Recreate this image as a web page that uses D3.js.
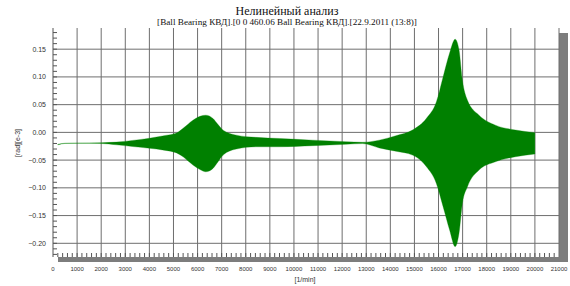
<!DOCTYPE html>
<html>
<head>
<meta charset="utf-8">
<script src="https://cdn.jsdelivr.net/npm/d3@7"></script>
<style>
  body { margin: 0; background: #fff; }
  svg { display: block; }
</style>
</head>
<body>
<div id="chart"></div>
<script>
// envelope of the response
var rpm   = [200, 500, 1000, 2000, 2640, 3300, 4000, 4600, 5130, 5400, 5810, 6100, 6340, 6640, 6850, 7060, 7610, 8430, 9400, 10780, 12160, 12850, 13540, 14230, 14920, 15500, 15910, 16190, 16460, 16690, 16850, 16990, 17200, 17680, 18360, 19190, 20000];
var upper = [-0.0215, -0.0195, -0.019, -0.0185, -0.0175, -0.0145, -0.0106, -0.006, -0.001, 0.0074, 0.022, 0.029, 0.031, 0.025, 0.014, 0.004, -0.005, -0.009, -0.011, -0.014, -0.0168, -0.0178, -0.014, -0.006, 0.0043, 0.0254, 0.055, 0.100, 0.143, 0.168, 0.149, 0.094, 0.058, 0.031, 0.013, 0.0043, -0.0005];
var lower = [-0.0225, -0.0200, -0.0198, -0.0200, -0.0225, -0.0255, -0.0286, -0.032, -0.037, -0.044, -0.059, -0.067, -0.071, -0.065, -0.053, -0.041, -0.030, -0.026, -0.026, -0.024, -0.0215, -0.0202, -0.028, -0.034, -0.041, -0.062, -0.092, -0.134, -0.176, -0.206, -0.182, -0.128, -0.098, -0.068, -0.053, -0.044, -0.039];

var xTicks = d3.range(0, 21001, 1000);
var yTicks = [-0.20, -0.15, -0.10, -0.05, 0.00, 0.05, 0.10, 0.15];

var title = "Нелинейный анализ";
var subtitle = "[Ball Bearing КВД].[0 0 460.06 Ball Bearing КВД].[22.9.2011 (13:8)]";

var W = 570, H = 286;
var pLeft = 53, pRight = 559, pTop = 28, pBottom = 257;

var svg = d3.select("#chart")
    .append("svg")
    .attr("width", W)
    .attr("height", H);

var x = d3.scaleLinear()
    .domain([0, 21000])
    .range([pLeft, pRight]);

var y = d3.scaleLinear()
    .domain([-0.2247, 0.1882])
    .range([pBottom, pTop]);

// drop shadow + plot background
svg.append("rect")
    .attr("x", pLeft + 5).attr("y", pTop + 5)
    .attr("width", pRight - pLeft + 4).attr("height", pBottom - pTop)
    .attr("fill", "#7d7d7d");
svg.append("rect")
    .attr("x", pLeft).attr("y", pTop)
    .attr("width", pRight - pLeft).attr("height", pBottom - pTop)
    .attr("fill", "#fff");

// grid
svg.append("g")
    .selectAll("line")
    .data(xTicks.slice(1))
    .enter()
    .append("line")
    .attr("x1", function (d) { return x(d); })
    .attr("x2", function (d) { return x(d); })
    .attr("y1", pTop).attr("y2", pBottom)
    .attr("stroke", "#6e6e6e").attr("stroke-width", 1);

svg.append("g")
    .selectAll("line")
    .data(yTicks)
    .enter()
    .append("line")
    .attr("x1", pLeft).attr("x2", pRight)
    .attr("y1", function (d) { return y(d); })
    .attr("y2", function (d) { return y(d); })
    .attr("stroke", "#6e6e6e").attr("stroke-width", 1);

// minor ticks
svg.append("g")
    .selectAll("line")
    .data(d3.range(200, 21000, 200))
    .enter()
    .append("line")
    .attr("x1", function (d) { return x(d); })
    .attr("x2", function (d) { return x(d); })
    .attr("y1", pBottom).attr("y2", pBottom - 4)
    .attr("stroke", "#555");

svg.append("g")
    .selectAll("line")
    .data(d3.range(-22, 19, 1))
    .enter()
    .append("line")
    .attr("x1", pLeft).attr("x2", pLeft + 4)
    .attr("y1", function (d) { return y(d / 100); })
    .attr("y2", function (d) { return y(d / 100); })
    .attr("stroke", "#555");

// response envelope
var data = rpm.map(function (r, i) { return {r: r, hi: upper[i], lo: lower[i]}; });

var area = d3.area()
    .x(function (d) { return x(d.r); })
    .y0(function (d) { return y(d.lo); })
    .y1(function (d) { return y(d.hi); })
    .curve(d3.curveMonotoneX);

svg.append("path")
    .datum(data)
    .attr("d", area)
    .attr("fill", "#008000")
    .attr("stroke", "#008000")
    .attr("stroke-width", 0.3);

// axes
svg.append("line")
    .attr("x1", pLeft).attr("x2", pLeft)
    .attr("y1", pTop).attr("y2", pBottom)
    .attr("stroke", "#555");

svg.append("g")
    .selectAll("text")
    .data(xTicks)
    .enter()
    .append("text")
    .attr("x", function (d) { return x(d); })
    .attr("y", 271)
    .attr("text-anchor", "middle")
    .style("font", "6px 'Liberation Sans', Arial, sans-serif")
    .attr("fill", "#333")
    .text(function (d) { return d; });

svg.append("g")
    .selectAll("text")
    .data(yTicks)
    .enter()
    .append("text")
    .attr("x", 46)
    .attr("y", function (d) { return y(d) + 2.5; })
    .attr("text-anchor", "end")
    .style("font", "7px 'Liberation Sans', Arial, sans-serif")
    .attr("fill", "#333")
    .text(function (d) { return d3.format(".2f")(d); });

svg.append("text")
    .attr("x", 305).attr("y", 282)
    .attr("text-anchor", "middle")
    .style("font", "7px 'Liberation Sans', Arial, sans-serif")
    .attr("fill", "#333")
    .text("[1/min]");

svg.append("text")
    .attr("transform", "translate(20,143) rotate(-90)")
    .attr("text-anchor", "middle")
    .style("font", "7px 'Liberation Sans', Arial, sans-serif")
    .attr("fill", "#333")
    .text("[rad][e-3]");

svg.append("text")
    .attr("x", 287).attr("y", 15)
    .attr("text-anchor", "middle")
    .style("font", "12px 'Liberation Serif', 'Times New Roman', serif")
    .attr("fill", "#111")
    .text(title);

svg.append("text")
    .attr("x", 287).attr("y", 25)
    .attr("text-anchor", "middle")
    .style("font", "9.2px 'Liberation Serif', 'Times New Roman', serif")
    .attr("fill", "#111")
    .text(subtitle);
</script>
</body>
</html>
